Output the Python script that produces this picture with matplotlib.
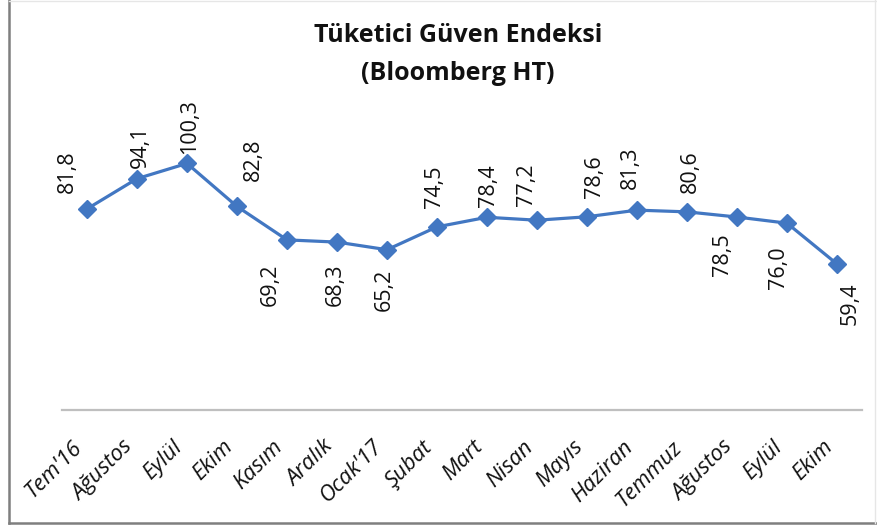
import numpy as np
import matplotlib
matplotlib.use("Agg")
import matplotlib.pyplot as plt
from matplotlib.lines import Line2D

months = ["Tem'16", "Ağustos", "Eylül", "Ekim", "Kasım", "Aralık", "Ocak'17", "Şubat",
          "Mart", "Nisan", "Mayıs", "Haziran", "Temmuz", "Ağustos", "Eylül", "Ekim"]
values = [81.8, 94.1, 100.3, 82.8, 69.2, 68.3, 65.2, 74.5,
          78.4, 77.2, 78.6, 81.3, 80.6, 78.5, 76.0, 59.4]
# label offsets (pixels)
label_dx = [-20, 3, 3, 16, -17, -2, -3, -3, 2, -10, 8, -7, 3, -15, -8, 13]
label_dy = [37, 32, 37, 47, -45, -43, -40, 40, 32, 35, 40, 42, 40, -38, -45, -40]

plt.rcParams['font.family'] = ['Open Sans', 'DejaVu Sans']

fig = plt.figure(figsize=(8.77, 5.26), dpi=100)
ax = fig.add_axes([62/877, (526-410)/526, 800/877, 295/526])

x = np.arange(len(values))
blue = '#4277C2'
ax.plot(x, values, color=blue, lw=2.3, marker='D', ms=9.5, mfc=blue, mec=blue, zorder=3)

for i, v in enumerate(values):
    ax.annotate(f"{v:.1f}".replace('.', ','), (x[i], v),
                xytext=(label_dx[i], label_dy[i]), textcoords='offset pixels',
                rotation=90, ha='center', va='center', fontsize=15.5, color='#111111')

ax.set_xlim(-0.5, len(values) - 0.5)
ax.set_ylim(0, 120)
ax.set_yticks([])
ax.set_xticks(x)
ax.set_xticklabels(months, rotation=45, ha='right', va='top', fontsize=16,
                   style='italic', color='#111111')
ax.tick_params(axis='x', length=0, pad=19)
for s in ['top', 'right', 'left']:
    ax.spines[s].set_visible(False)
ax.spines['bottom'].set_color('#BFBFBF')
ax.spines['bottom'].set_linewidth(1.6)

fig.text(0.522, 1 - 36/526, "Tüketici Güven Endeksi", ha='center', va='center',
         fontsize=18, fontweight='bold', color='#111111')
fig.text(0.522, 1 - 73/526, "(Bloomberg HT)", ha='center', va='center',
         fontsize=18, fontweight='bold', color='#111111')

# chart frame: dark left/bottom, faint top/right
W, H = 877, 526
fig.lines.append(Line2D([9/W, 9/W], [3/H, 1], transform=fig.transFigure, color='#7F7F7F', lw=1.8))
fig.lines.append(Line2D([9/W, 1], [3/H, 3/H], transform=fig.transFigure, color='#7F7F7F', lw=1.8))
fig.lines.append(Line2D([9/W, 1], [1 - 1/H, 1 - 1/H], transform=fig.transFigure, color='#E6E6E6', lw=1))
fig.lines.append(Line2D([1 - 2/W, 1 - 2/W], [3/H, 1], transform=fig.transFigure, color='#E6E6E6', lw=1))

fig.savefig("out.png", dpi=100)
